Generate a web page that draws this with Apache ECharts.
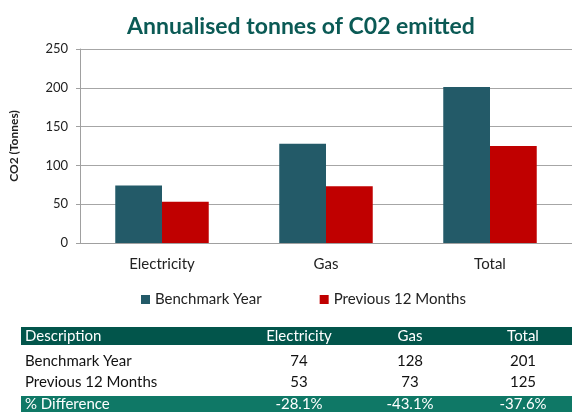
<!DOCTYPE html>
<html>
<head>
<meta charset="utf-8">
<script src="https://cdn.jsdelivr.net/npm/echarts@6/dist/echarts.min.js"></script>
<style>
  html, body { margin: 0; padding: 0; background: #fff; }
  #chart { width: 572px; height: 412px; }
</style>
</head>
<body>
<div id="chart"></div>
<script>
// chart data
var categories = ['Electricity', 'Gas', 'Total'];
var benchmarkYear = [74, 128, 201];
var previous12 = [53, 73, 125];
var seriesNames = ['Benchmark Year', 'Previous 12 Months'];
// table under the chart
var tableHeader = ['Description', 'Electricity', 'Gas', 'Total'];
var diffLabels = ['-28.1%', '-43.1%', '-37.6%'];

var font = 'Lato, "Open Sans", sans-serif';
var colBench = '#235a68';
var colPrev = '#c00000';

// table layout
var colX = [25, 299, 410, 523];
var rowY = [336, 361, 382, 404];

var graphic = [
  { type: 'rect', shape: { x: 21, y: 327, width: 560, height: 18 }, style: { fill: '#02554b' } },
  { type: 'rect', shape: { x: 21, y: 396, width: 560, height: 20 }, style: { fill: '#0f7866' } }
];
var rows = [
  { label: tableHeader[0], vals: tableHeader.slice(1), color: '#fff' },
  { label: seriesNames[0], vals: benchmarkYear.map(String), color: '#111' },
  { label: seriesNames[1], vals: previous12.map(String), color: '#111' },
  { label: '% Difference', vals: diffLabels, color: '#fff' }
];
rows.forEach(function (r, i) {
  graphic.push({
    type: 'text', x: colX[0], y: rowY[i],
    style: { text: r.label, fill: r.color, font: '15px ' + font, textAlign: 'left', textVerticalAlign: 'middle' }
  });
  r.vals.forEach(function (v, j) {
    graphic.push({
      type: 'text', x: colX[j + 1], y: rowY[i],
      style: { text: v, fill: r.color, font: '15px ' + font, textAlign: 'center', textVerticalAlign: 'middle' }
    });
  });
});

var chart = echarts.init(document.getElementById('chart'));
chart.setOption({
  animation: false,
  textStyle: { fontFamily: font },
  title: {
    text: 'Annualised tonnes of C02 emitted',
    left: 296, top: 10, textAlign: 'center',
    textStyle: { fontSize: 23, fontWeight: 'bold', color: '#0b5a55', fontFamily: font }
  },
  legend: {
    data: seriesNames,
    top: 287, left: 136,
    itemWidth: 9, itemHeight: 9, itemGap: 58,
    icon: 'rect',
    textStyle: { fontSize: 15, color: '#222', fontFamily: font }
  },
  grid: { left: 79, top: 49, width: 498, height: 194, containLabel: false },
  xAxis: {
    type: 'category',
    data: categories,
    axisLine: { lineStyle: { color: '#a0a0a0' } },
    axisTick: { show: false },
    axisLabel: { fontSize: 15, color: '#222', margin: 14 }
  },
  yAxis: {
    type: 'value',
    min: 0, max: 250, interval: 50,
    name: 'CO2 (Tonnes)',
    nameLocation: 'middle',
    nameGap: 60,
    nameTextStyle: { fontSize: 12, fontWeight: 'bold', color: '#222' },
    axisLine: { show: true, lineStyle: { color: '#a0a0a0' } },
    axisTick: { show: true, length: 4, lineStyle: { color: '#a0a0a0' } },
    axisLabel: { fontSize: 13, color: '#222', margin: 12 },
    splitLine: { lineStyle: { color: '#a6a6a6' } }
  },
  series: [
    { name: seriesNames[0], type: 'bar', data: benchmarkYear, barGap: 0, barCategoryGap: '43%',
      itemStyle: { color: colBench } },
    { name: seriesNames[1], type: 'bar', data: previous12,
      itemStyle: { color: colPrev } }
  ],
  graphic: graphic
});
</script>
</body>
</html>
